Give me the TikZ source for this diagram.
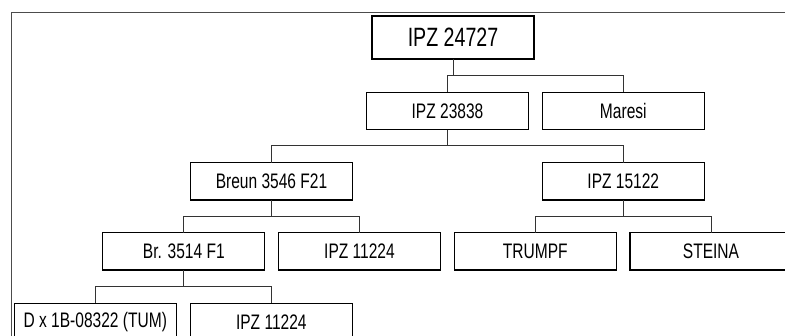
\documentclass[tikz,border=0pt]{standalone}
\usepackage{fontspec}
\setmainfont[FakeStretch=0.74]{Liberation Sans}
\begin{document}
\begin{tikzpicture}[x=1pt,y=-1pt,
  box/.style={draw=black, line width=1.2pt, rectangle, outer sep=0pt, inner sep=0pt,
    minimum width=162pt, minimum height=37.5pt, font=\fontsize{21}{25}\selectfont, text=black},
  topbox/.style={box, minimum height=43pt, font=\fontsize{26.5}{30}\selectfont},
  link/.style={draw=black!80, line width=1pt}]
\useasboundingbox (0,0) rectangle (785,336);
\clip (0,0) rectangle (785,336);
% frame
\draw[draw=black!70, line width=1pt] (11,345) -- (11,12.5) -- (800,12.5);
% nodes
\node[topbox] (top) at (453,37.5) {IPZ 24727};
\node[box] (a) at (447.5,111) {IPZ 23838};
\node[box] (b) at (623.3,111) {Maresi};
\node[box] (c) at (271.5,181.3) {Breun 3546 F21};
\node[box] (d) at (623.3,181.3) {IPZ 15122};
\node[box] (e) at (183.8,251.3) {Br. 3514 F1};
\node[box] (f) at (359.5,251.3) {IPZ 11224};
\node[box] (g) at (535.3,251.3) {TRUMPF};
\node[box] (h) at (711,251.3) {STEINA};
\node[box] (i) at (95.3,322) {D x 1B-08322 (TUM)};
\node[box] (j) at (271.3,322) {IPZ 11224};
% bar levels
\coordinate (bar1) at (0,76);
\coordinate (bar2) at (0,145.7);
\coordinate (bar3) at (0,216.7);
\coordinate (bar4) at (0,286.7);
% connectors
\draw[link] (top.south) -- (top.south |- bar1);
\draw[link] (a.north) |- (b.north |- bar1) -- (b.north);
\draw[link] (a.south) -- (a.south |- bar2);
\draw[link] (c.north) |- (d.north |- bar2) -- (d.north);
\draw[link] (c.south) -- (c.south |- bar3);
\draw[link] (e.north) |- (f.north |- bar3) -- (f.north);
\draw[link] (d.south) -- (d.south |- bar3);
\draw[link] (g.north) |- (h.north |- bar3) -- (h.north);
\draw[link] (e.south) -- (e.south |- bar4);
\draw[link] (i.north) |- (j.north |- bar4) -- (j.north);
\end{tikzpicture}
\end{document}
